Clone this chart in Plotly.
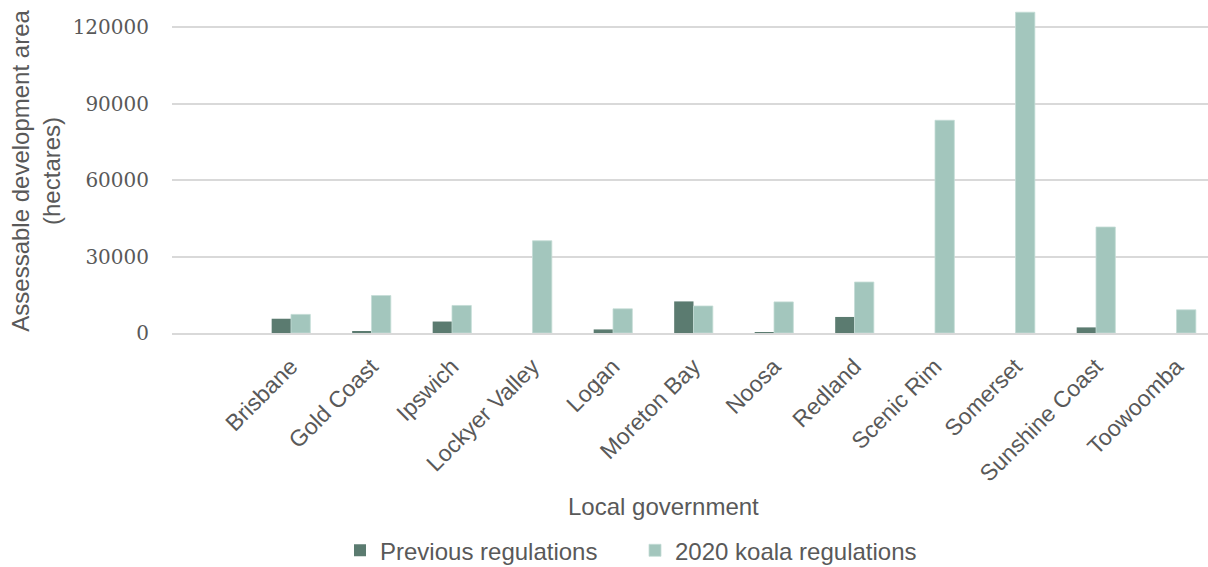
import plotly.graph_objects as go

categories = ["Brisbane", "Gold Coast", "Ipswich", "Lockyer Valley", "Logan", "Moreton Bay",
              "Noosa", "Redland", "Scenic Rim", "Somerset", "Sunshine Coast", "Toowoomba"]
previous = [5600, 400, 4500, 0, 1400, 12400, 300, 6300, 0, 0, 2200, 0]
koala2020 = [7300, 14700, 10800, 36200, 9500, 10600, 12200, 20000, 83500, 125900, 41600, 9100]
y_ticks = [0, 30000, 60000, 90000, 120000]

GRAY = "#595959"
W, H = 1208, 567
L, R, T, B = 172, 0, 0, 234

fig = go.Figure()
fig.add_trace(go.Bar(x=categories, y=previous, name="Previous regulations",
                     marker=dict(color="#5B7B70", line=dict(width=0))))
fig.add_trace(go.Bar(x=categories, y=koala2020, name="2020 koala regulations",
                     marker=dict(color="#A3C6BD", line=dict(color="#c4dcd5", width=0.8))))

pw = W - L - R
ph = H - B - T
def px_x(p):
    return (p - L) / pw

fig.update_layout(
    width=W, height=H,
    margin=dict(l=L, r=R, t=T, b=B, autoexpand=False),
    plot_bgcolor="white", paper_bgcolor="white",
    barmode="group", bargap=0.52, bargroupgap=0,
    font=dict(family="Liberation Sans, Arial, sans-serif", color=GRAY),
    showlegend=True,
    legend=dict(orientation="h", x=px_x(340), xanchor="left", y=-(551 - 333.3) / ph, yanchor="middle",
                yref="paper", font=dict(size=24, color=GRAY), traceorder="normal",
                entrywidth=250),
    xaxis=dict(type="category", range=[-1.478, 11.391], tickangle=-45,
               tickfont=dict(size=23, color=GRAY), showgrid=False,
               showline=True, linecolor="#d9d9d9", linewidth=2, ticks="",
               ticklabelstandoff=9, automargin=False),
    yaxis=dict(range=[0, 130700], tickvals=y_ticks, ticktext=[str(v) for v in y_ticks],
               tickfont=dict(family="DejaVu Serif, serif", size=20, color=GRAY),
               showgrid=True, gridcolor="#d9d9d9", gridwidth=1.5, zeroline=False,
               ticks="", ticklabelstandoff=22, showline=False, automargin=False),
    annotations=[
        dict(text="Local government", xref="paper", yref="paper", x=px_x(663),
             y=-(507 - 333.3) / ph, xanchor="center", yanchor="middle",
             showarrow=False, font=dict(size=24, color=GRAY)),
        dict(text="Assessable development area<br>(hectares)", xref="paper", yref="paper",
             x=px_x(36), y=(333.3 - 171) / ph, xanchor="center", yanchor="middle",
             textangle=-90, showarrow=False, font=dict(size=24, color=GRAY)),
    ],
)

fig.write_html("out.html")
